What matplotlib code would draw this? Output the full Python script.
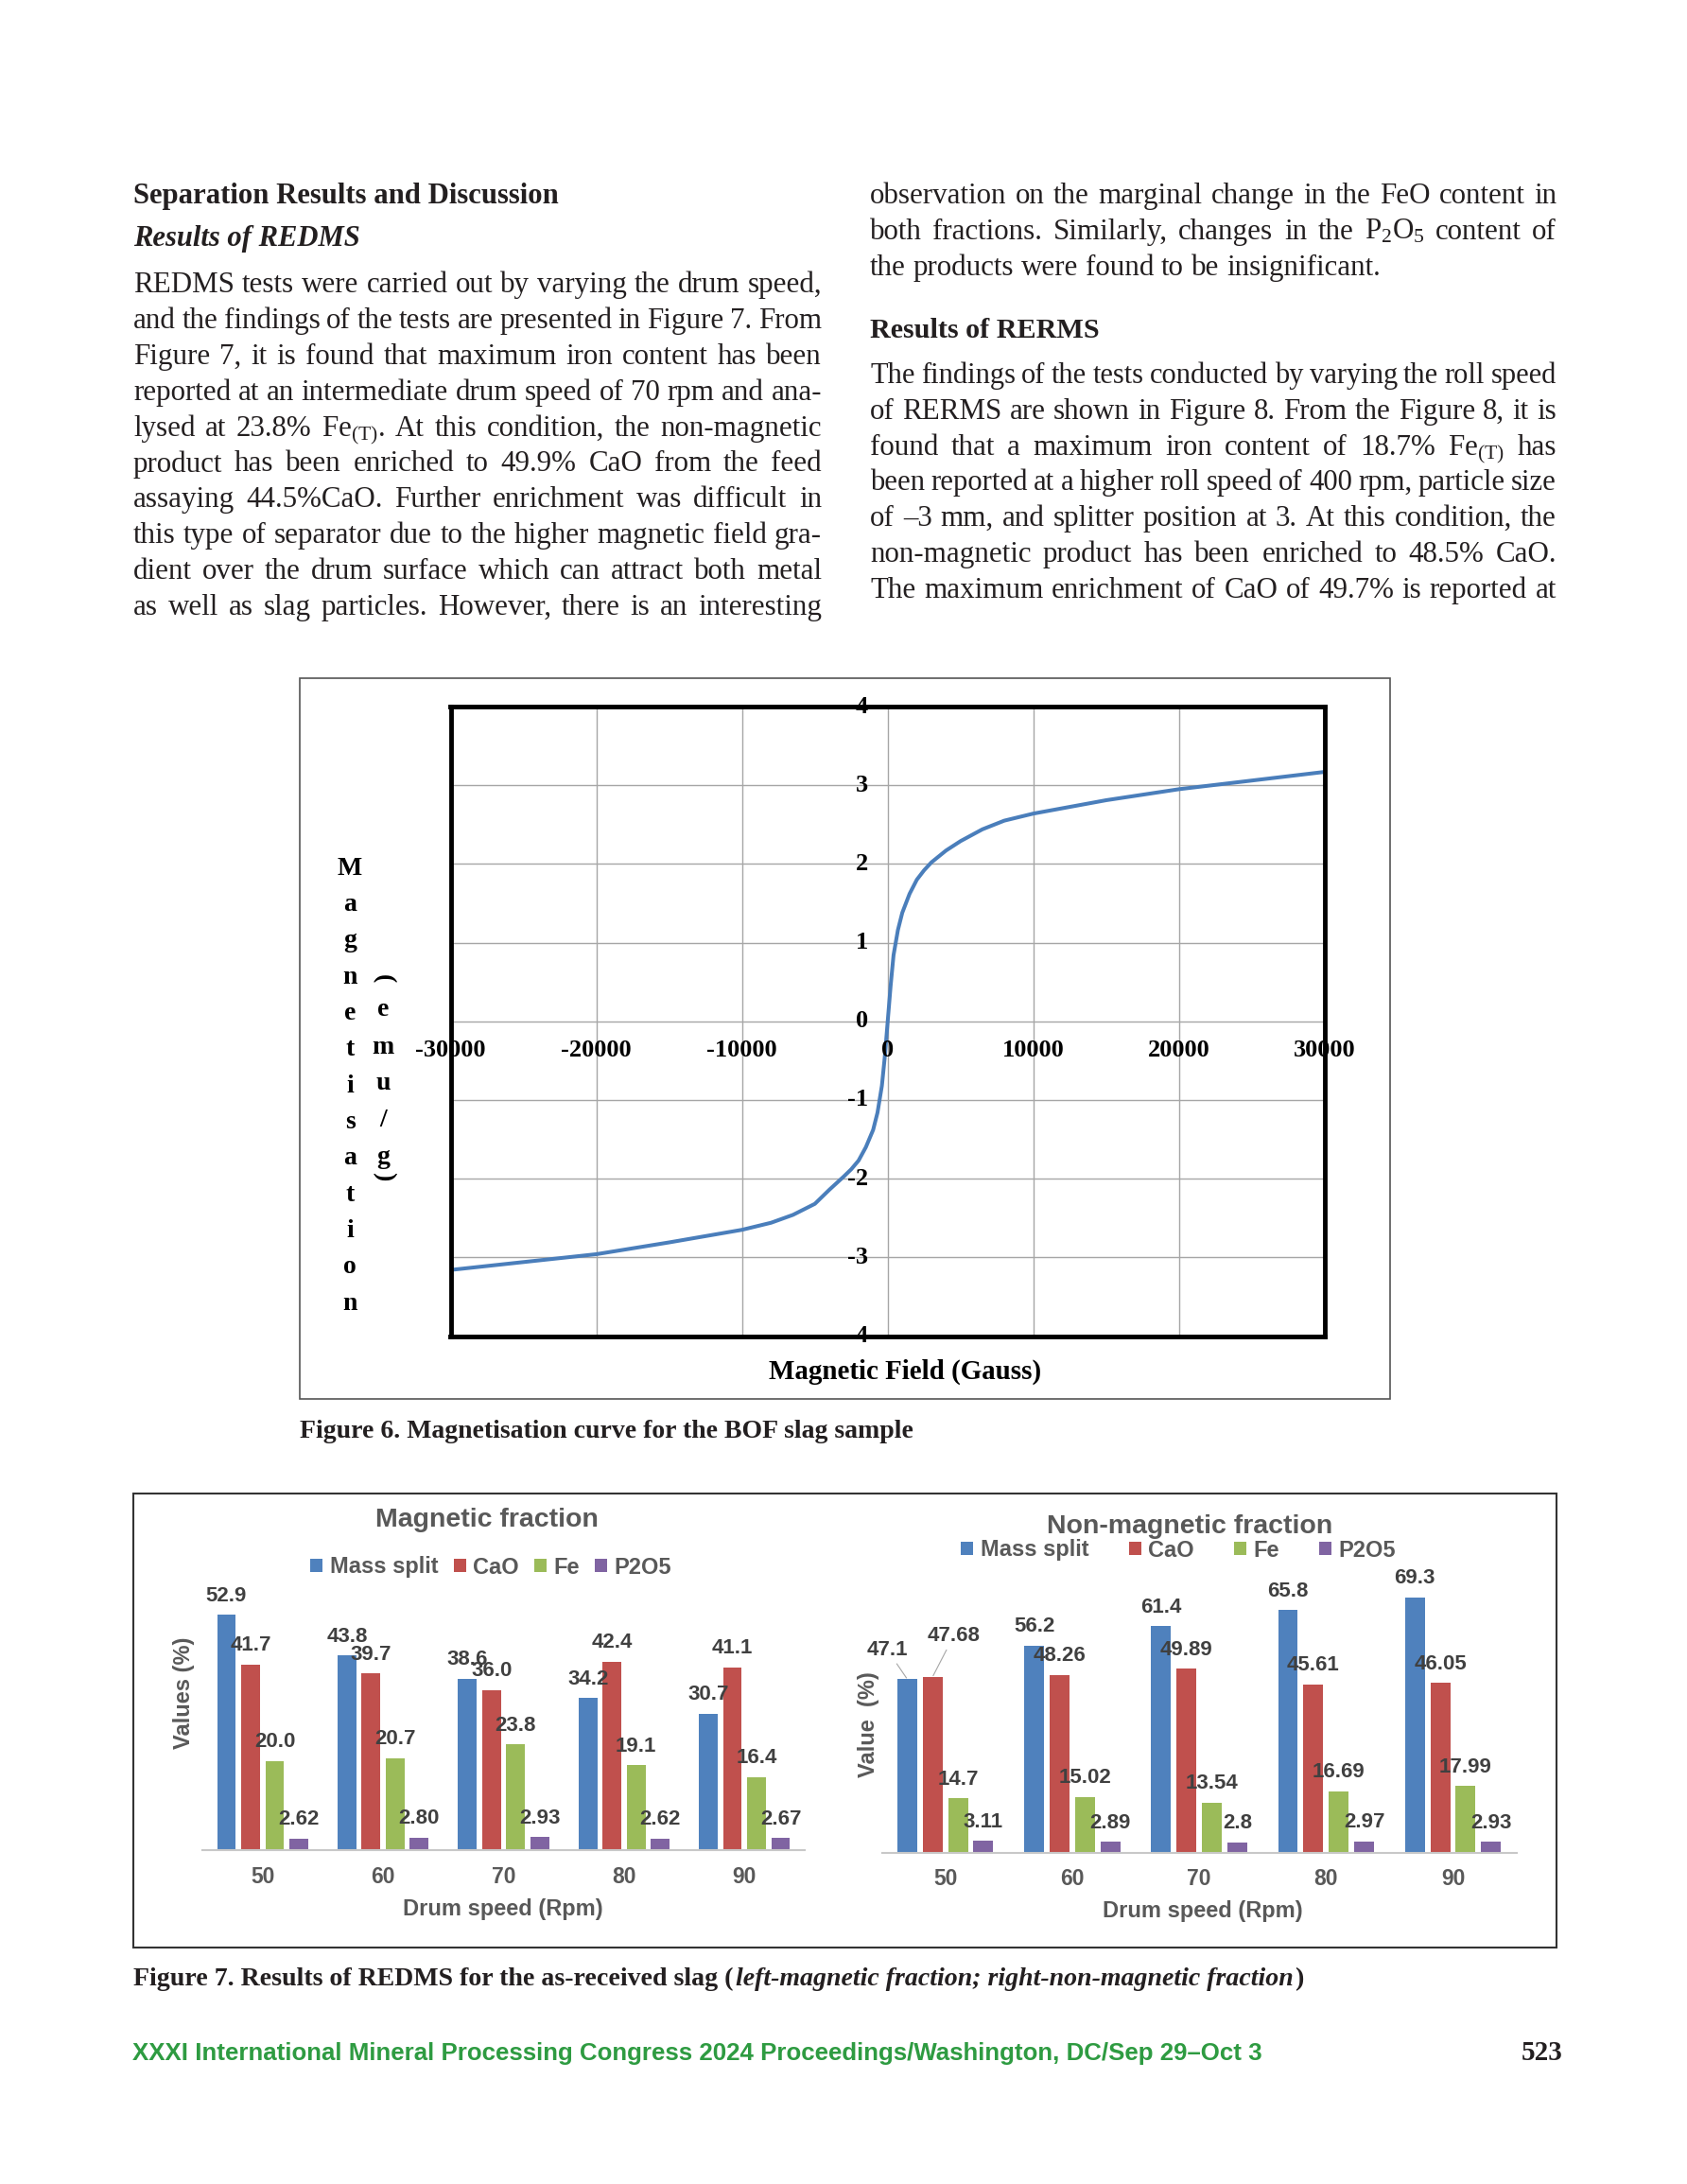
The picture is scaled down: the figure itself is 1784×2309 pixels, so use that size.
import numpy as np
import matplotlib
matplotlib.use('Agg')
from matplotlib import pyplot as plt
from matplotlib import transforms
from matplotlib.patches import Rectangle, Patch

W, H, DPI = 1784, 2309, 100
SERIF = 'Liberation Serif'
SANS = 'Liberation Sans'
INK = '#231f20'

# ---- page text ----
left_heading = 'Separation Results and Discussion'
left_subheading = 'Results of REDMS'
left_lines = [
    'REDMS tests were carried out by varying the drum speed,',
    'and the findings of the tests are presented in Figure 7. From',
    'Figure 7, it is found that maximum iron content has been',
    'reported at an intermediate drum speed of 70 rpm and ana-',
    'lysed at 23.8% Fe$_{\\mathrm{(T)}}$. At this condition, the non-magnetic',
    'product has been enriched to 49.9% CaO from the feed',
    'assaying 44.5%CaO. Further enrichment was difficult in',
    'this type of separator due to the higher magnetic field gra-',
    'dient over the drum surface which can attract both metal',
    'as well as slag particles. However, there is an interesting',
]
right_lines_a = [
    'observation on the marginal change in the FeO content in',
    'both fractions. Similarly, changes in the P$_{2}$O$_{5}$ content of',
    'the products were found to be insignificant.',
]
right_heading = 'Results of RERMS'
right_lines_b = [
    'The findings of the tests conducted by varying the roll speed',
    'of RERMS are shown in Figure 8. From the Figure 8, it is',
    'found that a maximum iron content of 18.7% Fe$_{\\mathrm{(T)}}$ has',
    'been reported at a higher roll speed of 400 rpm, particle size',
    'of \u20133 mm, and splitter position at 3. At this condition, the',
    'non-magnetic product has been enriched to 48.5% CaO.',
    'The maximum enrichment of CaO of 49.7% is reported at',
]
fig6_caption = 'Figure 6. Magnetisation curve for the BOF slag sample'
fig7_caption = ['Figure 7. Results of REDMS for the as-received slag (',
                'left-magnetic fraction; right-non-magnetic fraction', ')']
footer = 'XXXI International Mineral Processing Congress 2024 Proceedings/Washington, DC/Sep 29\u2013Oct 3'
page_no = '523'

# ---- figure 6: magnetisation curve ----
field_gauss = [-30000, -25000, -20000, -15000, -10000, -8000, -6500, -5000, -4000,
               -3000, -2500, -2000, -1500, -1000, -700, -400, -200, 0, 200, 400,
               700, 1000, 1500, 2000, 2500, 3000, 4000, 5000, 6500, 8000, 10000,
               15000, 20000, 25000, 30000]
magnetisation = [-3.16, -3.06, -2.96, -2.81, -2.65, -2.56, -2.46, -2.32, -2.14,
                 -1.97, -1.88, -1.77, -1.60, -1.38, -1.16, -0.82, -0.45, 0.0,
                 0.45, 0.84, 1.16, 1.38, 1.62, 1.80, 1.92, 2.02, 2.17, 2.29, 2.44,
                 2.55, 2.64, 2.81, 2.95, 3.06, 3.17]
field_ticks = [-30000, -20000, -10000, 0, 10000, 20000, 30000]
mag_ticks = [-4, -3, -2, -1, 0, 1, 2, 3, 4]

# ---- figure 7: REDMS results ----
drum_speed = ['50', '60', '70', '80', '90']
series_names = ['Mass split', 'CaO', 'Fe', 'P2O5']
series_colors = ['#4f81bd', '#c0504d', '#9bbb59', '#8064a2']
mag_mass = [52.9, 43.8, 38.6, 34.2, 30.7]
mag_cao = [41.7, 39.7, 36.0, 42.4, 41.1]
mag_fe = [20.0, 20.7, 23.8, 19.1, 16.4]
mag_p2o5 = [2.62, 2.80, 2.93, 2.62, 2.67]
nonmag_mass = [47.1, 56.2, 61.4, 65.8, 69.3]
nonmag_cao = [47.68, 48.26, 49.89, 45.61, 46.05]
nonmag_fe = [14.7, 15.02, 13.54, 16.69, 17.99]
nonmag_p2o5 = [3.11, 2.89, 2.8, 2.97, 2.93]

plt.rcParams['mathtext.fontset'] = 'custom'
plt.rcParams['mathtext.rm'] = SERIF
plt.rcParams['mathtext.it'] = SERIF + ':italic'
plt.rcParams['mathtext.bf'] = SERIF + ':bold'

fig = plt.figure(figsize=(W / DPI, H / DPI), dpi=DPI)
fig.patch.set_facecolor('white')
renderer = fig.canvas.get_renderer()


def fx(x):
    return x / W


def fy(y):
    return 1 - y / H


def width_of(t):
    return t.get_window_extent(renderer=renderer).width


def fit_text(x, y, s, width, ha='left', **kw):
    t = fig.text(fx(x), fy(y), s, fontsize=20, va='baseline', ha=ha, **kw)
    t.set_fontsize(20 * width / width_of(t))
    return t


def space_width(size):
    a = fig.text(0, 0, 'a a', fontsize=size, family=SERIF)
    b = fig.text(0, 0, 'aa', fontsize=size, family=SERIF)
    w = width_of(a) - width_of(b)
    a.remove()
    b.remove()
    return w


def body_line(x0, x1, y, line, size, justify=True):
    words = line.split(' ')
    texts = [fig.text(0, fy(y), w, fontsize=size, family=SERIF, color=INK,
                      va='baseline') for w in words]
    widths = [width_of(t) for t in texts]
    sp = space_width(size)
    n = len(words) - 1
    if justify and n > 0:
        gap = (x1 - x0 - sum(widths)) / n
        if gap < 0.8 * sp:
            # line too long at this size: shrink it a little
            scale = (x1 - x0 - n * 0.8 * sp) / sum(widths)
            for t in texts:
                t.set_fontsize(size * scale)
            widths = [width_of(t) for t in texts]
            gap = (x1 - x0 - sum(widths)) / n
    else:
        gap = sp
    x = x0
    for t, w in zip(texts, widths):
        t.set_x(fx(x))
        x += w + gap


BODY = 22.3
LX0, LX1 = 141, 869
RX0, RX1 = 920, 1646

fit_text(LX0, 215, left_heading, 450, family=SERIF, weight='bold', color=INK)
fit_text(LX0, 260, left_subheading, 240, family=SERIF, weight='bold',
         style='italic', color=INK)
for i, line in enumerate(left_lines):
    body_line(LX0, LX1, 309 + i * 37.9, line, BODY)

for i, line in enumerate(right_lines_a):
    body_line(RX0, RX1, 215 + i * 37.9, line, BODY, justify=i < 2)
fit_text(RX0, 357, right_heading, 242, family=SERIF, weight='bold', color=INK)
for i, line in enumerate(right_lines_b):
    body_line(RX0, RX1, 405 + i * 37.8, line, BODY)

# ---- Figure 6 ----
fig.patches.append(Rectangle((fx(317), fy(1479)), (1470 - 317) / W, (1479 - 717) / H,
                             transform=fig.transFigure, fill=False,
                             edgecolor='#555555', lw=1.2))
ax6 = fig.add_axes([fx(476.5), fy(1412.5), (1401 - 476.5) / W, (1412.5 - 747) / H])
ax6.plot(field_gauss, magnetisation, color='#4a7ebb', lw=2.9, zorder=2,
         solid_joinstyle='round', solid_capstyle='round')
ax6.set_xlim(-30000, 30000)
ax6.set_ylim(-4, 4)
ax6.set_xticks(field_ticks)
ax6.set_yticks(mag_ticks)
ax6.tick_params(length=0, labelbottom=False, labelleft=False)
ax6.grid(True, color='#a6a6a6', lw=1.0)
for sp in ax6.spines.values():
    sp.set_linewidth(3.5)
    sp.set_color('black')

below = transforms.offset_copy(ax6.transData, fig=fig, y=-31, units='dots')
leftof = transforms.offset_copy(ax6.transData, fig=fig, x=-21, units='dots')
for v in field_ticks:
    ax6.text(v, 0, str(v), transform=below, ha='center', va='center',
             family=SERIF, weight='bold', fontsize=19, color='black',
             zorder=2.2, clip_on=False)
for v in mag_ticks:
    ax6.text(0, v, str(v), transform=leftof, ha='right', va='center',
             family=SERIF, weight='bold', fontsize=19, color='black',
             zorder=2.2, clip_on=False)

for i, ch in enumerate('Magnetisation'):
    fig.text(fx(370), fy(915 + i * 38.35), ch, ha='center', va='center_baseline',
             family=SERIF, weight='bold', fontsize=20, color='black')
unit_chars = ['(', 'e', 'm', 'u', '/', 'g', ')']
unit_y = [1035, 1065, 1104, 1143, 1182, 1220, 1244]
for ch, y in zip(unit_chars, unit_y):
    rot = -90 if ch in '()' else 0
    fig.text(fx(405), fy(y), ch, ha='center', va='center_baseline' if not rot else 'center',
             rotation=rot, family=SERIF, weight='bold', fontsize=20, color='black')

fit_text(957, 1458, 'Magnetic Field (Gauss)', 289, ha='center', family=SERIF,
         weight='bold', color='black')
fit_text(317, 1520, fig6_caption, 647, family=SERIF, weight='bold', color=INK)

# ---- Figure 7 ----
fig.patches.append(Rectangle((fx(141), fy(2059)), (1646 - 141) / W, (2059 - 1579) / H,
                             transform=fig.transFigure, fill=False,
                             edgecolor='#333333', lw=1.5))


def bar_panel(rect, series, fmts, ymax, title, title_xy, ylabel, ylabel_xy,
              xlabel_xy, legend_xy, colspace, shifts):
    ax = fig.add_axes(rect)
    x = np.arange(len(drum_speed))
    for k, vals in enumerate(series):
        pos = x + (k - 1.5) * 0.2
        ax.bar(pos, vals, width=0.156, color=series_colors[k], zorder=2)
        for j, v in enumerate(vals):
            dx, dy = shifts.get((k, j), (0, 10.5))
            kw = {}
            va = 'baseline'
            if (k, j) in shifts:
                va = 'center'
                kw['arrowprops'] = dict(arrowstyle='-', color='#a6a6a6', lw=0.8,
                                        shrinkA=1, shrinkB=1)
            ax.annotate(fmts[k].format(v), (pos[j], v), xytext=(dx, dy),
                        textcoords='offset points', ha='center', va=va,
                        family=SANS, weight='bold', fontsize=16,
                        color='#404040', zorder=4, **kw)
    ax.set_xlim(-0.5, len(drum_speed) - 0.5)
    ax.set_ylim(0, ymax)
    ax.set_xticks(x)
    ax.set_xticklabels(drum_speed, family=SANS, weight='bold', fontsize=16.5,
                       color='#595959')
    ax.tick_params(axis='x', length=0, pad=12)
    ax.set_yticks([])
    for s in ['left', 'right', 'top']:
        ax.spines[s].set_visible(False)
    ax.spines['bottom'].set_color('#c8c8c8')
    ax.spines['bottom'].set_linewidth(1.5)
    ax.patch.set_alpha(0)
    fig.text(fx(title_xy[0]), fy(title_xy[1]), title, ha='center', va='center',
             family=SANS, weight='bold', fontsize=20.5, color='#595959')
    fig.text(fx(ylabel_xy[0]), fy(ylabel_xy[1]), ylabel, ha='center', va='center',
             rotation=90, family=SANS, weight='bold', fontsize=17, color='#595959')
    fig.text(fx(xlabel_xy[0]), fy(xlabel_xy[1]), 'Drum speed (Rpm)', ha='center',
             va='center', family=SANS, weight='bold', fontsize=17, color='#595959')
    handles = [Patch(facecolor=c, edgecolor='none') for c in series_colors]
    ax.legend(handles, series_names, loc='center', ncol=4, frameon=False,
              bbox_to_anchor=(fx(legend_xy[0]), fy(legend_xy[1])),
              bbox_transform=fig.transFigure, handlelength=0.55, handleheight=0.55,
              handletextpad=0.3, columnspacing=colspace, borderaxespad=0,
              prop=dict(family=SANS, weight='bold', size=17), labelcolor='#595959')
    return ax


bar_panel([fx(214), fy(1956), (851 - 214) / W, 282 / H],
          [mag_mass, mag_cao, mag_fe, mag_p2o5],
          ['{:.1f}', '{:.1f}', '{:.1f}', '{:.2f}'], 60,
          'Magnetic fraction', (515, 1607), 'Values (%)', (195, 1790),
          (532, 2019), (519, 1657), 0.7, {})
bar_panel([fx(932.5), fy(1958.5), (1603.6 - 932.5) / W, 292 / H],
          [nonmag_mass, nonmag_cao, nonmag_fe, nonmag_p2o5],
          ['{:g}', '{:g}', '{:g}', '{:g}'], 75,
          'Non-magnetic fraction', (1258, 1614), 'Value  (%)', (918, 1823),
          (1272, 2021), (1246, 1639), 1.8,
          {(0, 0): (-15, 22), (1, 0): (16, 31)})

# Figure 7 caption, mixed bold / bold italic
styles = ['normal', 'italic', 'normal']
parts = [fig.text(0, fy(2099), s, family=SERIF, weight='bold', style=st,
                  fontsize=20, color=INK, va='baseline')
         for s, st in zip(fig7_caption, styles)]
total = sum(width_of(p) for p in parts)
size = 20 * 1235 / total
x = 141
for p in parts:
    p.set_fontsize(size)
    p.set_x(fx(x))
    x += width_of(p) + 2

fit_text(140, 2178, footer, 1197, family=SANS, weight='bold', color='#2e9b41')
fig.text(fx(1652), fy(2178), page_no, ha='right', va='baseline', family=SERIF,
         weight='bold', fontsize=21, color=INK)

fig.savefig('out.png', dpi=DPI)
